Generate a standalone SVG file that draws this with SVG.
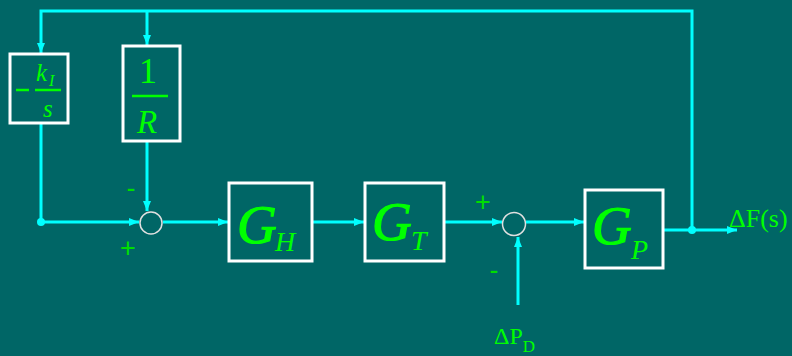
<svg xmlns="http://www.w3.org/2000/svg" width="792" height="356" viewBox="0 0 792 356">
<defs>
<marker id="ah" viewBox="0 0 10 8" refX="10" refY="4" markerWidth="10" markerHeight="8" markerUnits="userSpaceOnUse" orient="auto">
<path d="M0,0 L10,4 L0,8 Z" fill="#00ffff"/>
</marker>
<style>
.w{stroke:#00ffff;stroke-width:3;fill:none}
.a{marker-end:url(#ah)}
.box{fill:none;stroke:#ffffff;stroke-width:3}
.sum{fill:none;stroke:#e0e0e0;stroke-width:1.5}
.t{font-family:"Liberation Serif","Times New Roman",serif;fill:#00ff00}
.i{font-style:italic}
.g{stroke:#00ff00;stroke-width:1.2}
.sg{font-family:"Liberation Sans",Arial,sans-serif;fill:#00dd00;font-size:27px}
.fl{stroke:#00ff00;stroke-width:2.5}
</style>
</defs>
<rect x="0" y="0" width="792" height="356" fill="#006666"/>
<g id="connectors">
<path class="w a" d="M692 230 V11 H41 V53"/>
<path class="w a" d="M147 11 V45"/>
<path class="w a" d="M41 124 V222 H139"/>
<path class="w a" d="M147 142 V211"/>
<path class="w a" d="M163 222 H228"/>
<path class="w a" d="M313 222 H364"/>
<path class="w a" d="M445 222 H502"/>
<path class="w a" d="M526 222 H584"/>
<path class="w a" d="M518 305 V237"/>
<path class="w a" d="M664 230 H737"/>
<circle cx="41" cy="222" r="4" fill="#00ffff"/>
<circle cx="692" cy="230" r="4" fill="#00ffff"/>
</g>
<g id="ki">
<rect class="box" x="10" y="54" width="58" height="69"/>
<line class="fl" x1="16" y1="90" x2="29" y2="90"/>
<line class="fl" x1="35" y1="90" x2="61" y2="90"/>
<text class="t i" x="36" y="81" font-size="25">k</text>
<text class="t i" x="49" y="86" font-size="16">I</text>
<text class="t i" x="43" y="117" font-size="25">s</text>
</g>
<g id="invR">
<rect class="box" x="123" y="46" width="57" height="95"/>
<text class="t" x="148" y="83" font-size="36" text-anchor="middle">1</text>
<line class="fl" x1="132" y1="96" x2="168" y2="96"/>
<text class="t i" x="147" y="133" font-size="33" text-anchor="middle">R</text>
</g>
<g id="sum1">
<circle class="sum" cx="151" cy="223" r="11"/>
<text class="sg" x="131" y="197" text-anchor="middle">-</text>
<text class="sg" x="128" y="257" text-anchor="middle">+</text>
</g>
<g id="GH">
<rect class="box" x="229" y="183" width="83" height="78"/>
<text class="t i g" x="237" y="243" font-size="55">G</text>
<text class="t i" x="275" y="251" font-size="28">H</text>
</g>
<g id="GT">
<rect class="box" x="365" y="183" width="79" height="78"/>
<text class="t i g" x="372" y="240" font-size="55">G</text>
<text class="t i" x="411" y="250" font-size="28">T</text>
</g>
<g id="sum2">
<circle class="sum" cx="514" cy="224" r="11.5"/>
<text class="sg" x="483" y="211" text-anchor="middle">+</text>
<text class="sg" x="494" y="279" text-anchor="middle">-</text>
</g>
<g id="GP">
<rect class="box" x="585" y="190" width="78" height="78"/>
<text class="t i g" x="592" y="244" font-size="55">G</text>
<text class="t i" x="631" y="259" font-size="28">P</text>
</g>
<g id="dF">
<text class="t" x="729" y="227" font-size="26">ΔF(s)</text>
</g>
<g id="dPD">
<text class="t" x="494" y="344" font-size="24">ΔP<tspan font-size="17" dy="8">D</tspan></text>
</g>
</svg>
